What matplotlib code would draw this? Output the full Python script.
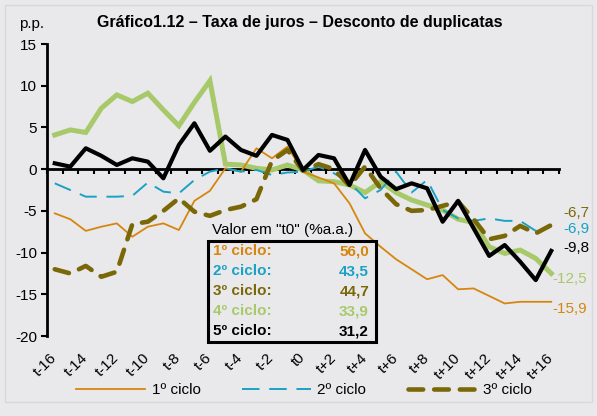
import numpy as np
import matplotlib
matplotlib.use("Agg")
import matplotlib.pyplot as plt
from matplotlib.patches import Rectangle

plt.rcParams['font.family'] = ['Liberation Sans', 'DejaVu Sans']
plt.rcParams['axes.unicode_minus'] = False

# Dados (p.p.)
periodos = ['t-16', 't-15', 't-14', 't-13', 't-12', 't-11', 't-10', 't-9', 't-8',
            't-7', 't-6', 't-5', 't-4', 't-3', 't-2', 't-1', 't0',
            't+1', 't+2', 't+3', 't+4', 't+5', 't+6', 't+7', 't+8',
            't+9', 't+10', 't+11', 't+12', 't+13', 't+14', 't+15', 't+16']
ciclo1 = [-5.3, -6.0, -7.4, -6.9, -6.5, -8.1, -6.9, -6.5, -7.3, -3.8, -2.6, 0.1, -0.3,
          2.5, 1.3, 2.7, -0.3, -1.0, -1.7, -4.1, -7.7, -9.3, -10.8, -12.0, -13.2,
          -12.7, -14.4, -14.3, -15.2, -16.1, -15.9, -15.9, -15.9]
ciclo2 = [-1.7, -2.5, -3.3, -3.3, -3.3, -3.2, -1.6, -2.7, -2.9, -1.3, -0.3, 0.1, -0.3,
          -0.1, -0.7, -0.4, -0.3, 0.3, -0.5, -1.6, -3.5, -2.5, -0.3, -2.8, -1.3,
          -4.9, -5.9, -6.2, -5.9, -6.2, -6.2, -7.4, -6.9]
ciclo3 = [-12.0, -12.5, -11.6, -12.9, -12.3, -6.6, -6.3, -5.0, -3.5, -5.1, -5.6, -4.9,
          -4.5, -3.6, 1.0, 2.3, -0.2, 0.6, 0.0, -2.0, 0.3, -2.3, -4.2, -5.0, -4.9,
          -4.4, -3.9, -6.0, -8.4, -8.0, -6.8, -7.7, -6.7]
ciclo4 = [4.1, 4.7, 4.4, 7.3, 8.9, 8.1, 9.1, 7.1, 5.2, 8.0, 10.6, 0.6, 0.5, 0.1, -0.1,
          0.5, -0.1, -1.4, -1.5, -1.9, -2.8, -1.5, -2.8, -3.7, -4.3, -4.9, -6.0,
          -6.4, -9.3, -10.1, -9.7, -10.7, -12.5]
ciclo5 = [0.7, 0.3, 2.5, 1.6, 0.5, 1.3, 0.9, -1.1, 2.9, 5.5, 2.2, 3.9, 2.3, 1.6, 4.1,
          3.5, -0.1, 1.7, 1.3, -1.9, 2.3, -0.9, -2.4, -1.7, -2.3, -6.3, -3.8, -7.1,
          -10.4, -9.1, -11.1, -13.3, -9.8]

nomes_tabela = ['1º ciclo:', '2º ciclo:', '3º ciclo:', '4º ciclo:', '5º ciclo:']
valores_t0 = ['56,0', '43,5', '44,7', '33,9', '31,2']
rotulos_finais = ['-6,7', '-6,9', '-9,8', '-12,5', '-15,9']

laranja = '#D6860F'
azul = '#19A2C6'
oliva = '#7A6808'
verde = '#A8C96A'
preto = '#000000'
fundo = '#E9E9EB'
fs = 11

W, H = 597, 416
fig = plt.figure(figsize=(W / 100, H / 100), dpi=100, facecolor=fundo)
ax = fig.add_axes([47 / W, 1 - 336 / H, 512 / W, 292 / H])
ax.set_facecolor('none')

x = np.arange(len(periodos))
ax.plot(x, ciclo4, color=verde, lw=3.6, solid_joinstyle='miter', zorder=2)
ax.plot(x, ciclo1, color=laranja, lw=1.3, zorder=3, label='1º ciclo')
ax.plot(x, ciclo2, color=azul, lw=1.4, dashes=(9, 5), zorder=3, label='2º ciclo')
ax.plot(x, ciclo3, color=oliva, lw=3.3, dashes=(3.2, 2.4), dash_capstyle='round',
        zorder=4, label='3º ciclo')
ax.plot(x, ciclo5, color=preto, lw=3.0, zorder=5)

ax.set_xlim(-0.5, len(periodos) - 0.5)
ax.set_ylim(-20, 15)
ax.set_yticks(np.arange(-20, 16, 5))
ax.tick_params(axis='y', direction='out', length=4, width=1.5, labelsize=fs, pad=3)
for s in ['top', 'right', 'bottom']:
    ax.spines[s].set_visible(False)
ax.spines['left'].set_linewidth(2)

# rótulos do eixo x (a cada 2 períodos)
ax.set_xticks(x[::2])
ax.set_xticklabels(periodos[::2])
ax.tick_params(axis='x', length=0, labelsize=fs, pad=14)
plt.setp(ax.get_xticklabels(), rotation=45, ha='right', va='center',
         rotation_mode='anchor')

# eixo horizontal no zero com marcas entre períodos
sec = ax.secondary_xaxis(20 / 35)
sec.set_xticks(np.arange(-0.5, len(periodos), 1.0))
sec.set_xticklabels([])
sec.tick_params(direction='in', length=3.5, width=1.5)
for s in sec.spines.values():
    s.set_linewidth(2)

# rótulos finais
ax.text(32.75, -5.3, rotulos_finais[0], color=oliva, fontsize=fs, va='center')
ax.text(32.75, -7.2, rotulos_finais[1], color=azul, fontsize=fs, va='center')
ax.text(32.75, -9.45, rotulos_finais[2], color=preto, fontsize=fs, va='center')
ax.text(32.1, -13.2, rotulos_finais[3], color=verde, fontsize=fs, va='center')
ax.text(32.1, -16.8, rotulos_finais[4], color=laranja, fontsize=fs, va='center')

# título
fig.text(300 / W, 1 - 22 / H, 'Gráfico1.12 – Taxa de juros – Desconto de duplicatas',
         ha='center', va='center', fontsize=11.5, fontweight='bold')
fig.text(19 / W, 1 - 24 / H, 'p.p.', ha='left', va='center', fontsize=fs)

# tabela de valores em t0
fig.text(212 / W, 1 - 230 / H, 'Valor em "t0" (%a.a.)', ha='left', va='center',
         fontsize=fs)
fig.patches.append(Rectangle((208 / W, 1 - 342 / H), 168 / W, 101 / H,
                             transform=fig.transFigure, facecolor=fundo,
                             edgecolor='black', lw=2.2, zorder=6))
cores_tabela = [laranja, azul, oliva, verde, preto]
for k in range(len(nomes_tabela)):
    yk = 1 - (251 + 20 * k) / H
    fig.text(213 / W, yk, nomes_tabela[k], color=cores_tabela[k], fontsize=fs,
             fontweight='bold', ha='left', va='center', zorder=7)
    fig.text(369 / W, yk, valores_t0[k], color=cores_tabela[k], fontsize=fs,
             fontweight='bold', ha='right', va='center', zorder=7)

# legenda
h, l = ax.get_legend_handles_labels()
fig.legend(h, l, loc='center', bbox_to_anchor=(304 / W, 1 - 390 / H), ncol=3,
           frameon=False, fontsize=fs, handlelength=4.5, handletextpad=0.45,
           columnspacing=2.7)

# moldura clara
fig.patches.append(Rectangle((5 / W, 1 - 402 / H), 587 / W, 397 / H,
                             transform=fig.transFigure, facecolor='none',
                             edgecolor='#D8D8DA', lw=1, zorder=0))

fig.savefig('out.png', dpi=100, facecolor=fundo)
